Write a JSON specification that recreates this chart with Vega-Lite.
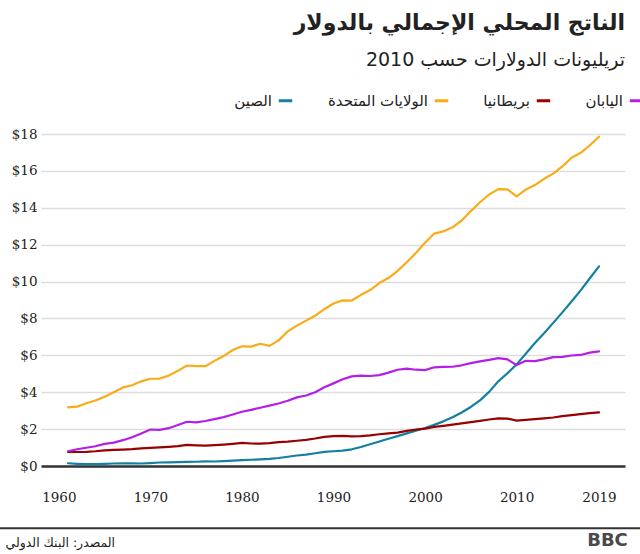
{
  "$schema": "https://vega.github.io/schema/vega-lite/v6.json",
  "width": 584,
  "height": 332,
  "autosize": {"type": "none"},
  "padding": {"left": 41, "top": 134, "right": 15, "bottom": 88},
  "background": "white",
  "title": {
    "text": "الناتج المحلي الإجمالي بالدولار",
    "subtitle": "تريليونات الدولارات حسب 2010",
    "anchor": "end",
    "frame": "group",
    "orient": "top",
    "offset": 21,
    "font": "DejaVu Sans",
    "fontSize": 22,
    "fontWeight": "bold",
    "color": "#222222",
    "subtitleFont": "DejaVu Sans",
    "subtitleFontSize": 19,
    "subtitleColor": "#222222",
    "subtitlePadding": 16
  },
  "config": {
    "view": {"stroke": null},
    "axisY": {
      "labelOverlap": false,
      "domain": false,
      "ticks": false,
      "grid": true,
      "gridColor": "#dddddd",
      "gridWidth": 1.5,
      "labelPadding": 4,
      "labelFont": "DejaVu Serif",
      "labelFontSize": 13.5,
      "labelColor": "#222222",
      "titleAngle": 0,
      "titleX": 566,
      "titleY": 406,
      "titleAlign": "center",
      "titleBaseline": "middle",
      "titleFont": "DejaVu Sans",
      "titleFontSize": 18,
      "titleFontWeight": "bold",
      "titleColor": "#4a4a4a"
    },
    "axisX": {
      "labelOverlap": false,
      "grid": false,
      "ticks": false,
      "domain": true,
      "domainColor": "#333333",
      "domainWidth": 2.5,
      "labelPadding": 24,
      "labelFont": "DejaVu Serif",
      "labelFontSize": 13.5,
      "labelColor": "#222222",
      "zindex": 1,
      "titleX": -36,
      "titleY": 76,
      "titleAlign": "left",
      "titleBaseline": "middle",
      "titleFont": "DejaVu Sans",
      "titleFontSize": 12.5,
      "titleFontWeight": "normal",
      "titleColor": "#222222"
    }
  },
  "datasets": {
    "gdp": [
      {"year":1961,"country":"الصين","gdp":0.15},{"year":1962,"country":"الصين","gdp":0.12},{"year":1963,"country":"الصين","gdp":0.10},{"year":1964,"country":"الصين","gdp":0.10},{"year":1965,"country":"الصين","gdp":0.115},{"year":1966,"country":"الصين","gdp":0.135},{"year":1967,"country":"الصين","gdp":0.15},{"year":1968,"country":"الصين","gdp":0.14},{"year":1969,"country":"الصين","gdp":0.135},{"year":1970,"country":"الصين","gdp":0.16},
      {"year":1971,"country":"الصين","gdp":0.19},{"year":1972,"country":"الصين","gdp":0.20},{"year":1973,"country":"الصين","gdp":0.21},{"year":1974,"country":"الصين","gdp":0.225},{"year":1975,"country":"الصين","gdp":0.23},{"year":1976,"country":"الصين","gdp":0.25},{"year":1977,"country":"الصين","gdp":0.245},{"year":1978,"country":"الصين","gdp":0.265},{"year":1979,"country":"الصين","gdp":0.295},{"year":1980,"country":"الصين","gdp":0.32},
      {"year":1981,"country":"الصين","gdp":0.34},{"year":1982,"country":"الصين","gdp":0.36},{"year":1983,"country":"الصين","gdp":0.39},{"year":1984,"country":"الصين","gdp":0.435},{"year":1985,"country":"الصين","gdp":0.50},{"year":1986,"country":"الصين","gdp":0.57},{"year":1987,"country":"الصين","gdp":0.62},{"year":1988,"country":"الصين","gdp":0.69},{"year":1989,"country":"الصين","gdp":0.77},{"year":1990,"country":"الصين","gdp":0.80},
      {"year":1991,"country":"الصين","gdp":0.83},{"year":1992,"country":"الصين","gdp":0.905},{"year":1993,"country":"الصين","gdp":1.03},{"year":1994,"country":"الصين","gdp":1.18},{"year":1995,"country":"الصين","gdp":1.33},{"year":1996,"country":"الصين","gdp":1.48},{"year":1997,"country":"الصين","gdp":1.62},{"year":1998,"country":"الصين","gdp":1.77},{"year":1999,"country":"الصين","gdp":1.91},{"year":2000,"country":"الصين","gdp":2.06},
      {"year":2001,"country":"الصين","gdp":2.23},{"year":2002,"country":"الصين","gdp":2.42},{"year":2003,"country":"الصين","gdp":2.64},{"year":2004,"country":"الصين","gdp":2.90},{"year":2005,"country":"الصين","gdp":3.20},{"year":2006,"country":"الصين","gdp":3.56},{"year":2007,"country":"الصين","gdp":4.02},{"year":2008,"country":"الصين","gdp":4.59},{"year":2009,"country":"الصين","gdp":5.03},{"year":2010,"country":"الصين","gdp":5.51},
      {"year":2011,"country":"الصين","gdp":6.09},{"year":2012,"country":"الصين","gdp":6.67},{"year":2013,"country":"الصين","gdp":7.20},{"year":2014,"country":"الصين","gdp":7.76},{"year":2015,"country":"الصين","gdp":8.33},{"year":2016,"country":"الصين","gdp":8.92},{"year":2017,"country":"الصين","gdp":9.52},{"year":2018,"country":"الصين","gdp":10.18},{"year":2019,"country":"الصين","gdp":10.82},

      {"year":1961,"country":"الولايات المتحدة","gdp":3.18},{"year":1962,"country":"الولايات المتحدة","gdp":3.22},{"year":1963,"country":"الولايات المتحدة","gdp":3.40},{"year":1964,"country":"الولايات المتحدة","gdp":3.55},{"year":1965,"country":"الولايات المتحدة","gdp":3.75},{"year":1966,"country":"الولايات المتحدة","gdp":4.00},{"year":1967,"country":"الولايات المتحدة","gdp":4.26},{"year":1968,"country":"الولايات المتحدة","gdp":4.38},{"year":1969,"country":"الولايات المتحدة","gdp":4.59},{"year":1970,"country":"الولايات المتحدة","gdp":4.73},
      {"year":1971,"country":"الولايات المتحدة","gdp":4.74},{"year":1972,"country":"الولايات المتحدة","gdp":4.90},{"year":1973,"country":"الولايات المتحدة","gdp":5.16},{"year":1974,"country":"الولايات المتحدة","gdp":5.45},{"year":1975,"country":"الولايات المتحدة","gdp":5.42},{"year":1976,"country":"الولايات المتحدة","gdp":5.41},{"year":1977,"country":"الولايات المتحدة","gdp":5.70},{"year":1978,"country":"الولايات المتحدة","gdp":5.96},{"year":1979,"country":"الولايات المتحدة","gdp":6.29},{"year":1980,"country":"الولايات المتحدة","gdp":6.49},
      {"year":1981,"country":"الولايات المتحدة","gdp":6.47},{"year":1982,"country":"الولايات المتحدة","gdp":6.63},{"year":1983,"country":"الولايات المتحدة","gdp":6.51},{"year":1984,"country":"الولايات المتحدة","gdp":6.81},{"year":1985,"country":"الولايات المتحدة","gdp":7.30},{"year":1986,"country":"الولايات المتحدة","gdp":7.61},{"year":1987,"country":"الولايات المتحدة","gdp":7.88},{"year":1988,"country":"الولايات المتحدة","gdp":8.15},{"year":1989,"country":"الولايات المتحدة","gdp":8.50},{"year":1990,"country":"الولايات المتحدة","gdp":8.81},
      {"year":1991,"country":"الولايات المتحدة","gdp":8.98},{"year":1992,"country":"الولايات المتحدة","gdp":8.97},{"year":1993,"country":"الولايات المتحدة","gdp":9.28},{"year":1994,"country":"الولايات المتحدة","gdp":9.54},{"year":1995,"country":"الولايات المتحدة","gdp":9.92},{"year":1996,"country":"الولايات المتحدة","gdp":10.19},{"year":1997,"country":"الولايات المتحدة","gdp":10.58},{"year":1998,"country":"الولايات المتحدة","gdp":11.05},{"year":1999,"country":"الولايات المتحدة","gdp":11.55},{"year":2000,"country":"الولايات المتحدة","gdp":12.10},
      {"year":2001,"country":"الولايات المتحدة","gdp":12.60},{"year":2002,"country":"الولايات المتحدة","gdp":12.72},{"year":2003,"country":"الولايات المتحدة","gdp":12.94},{"year":2004,"country":"الولايات المتحدة","gdp":13.31},{"year":2005,"country":"الولايات المتحدة","gdp":13.82},{"year":2006,"country":"الولايات المتحدة","gdp":14.30},{"year":2007,"country":"الولايات المتحدة","gdp":14.72},{"year":2008,"country":"الولايات المتحدة","gdp":15.01},{"year":2009,"country":"الولايات المتحدة","gdp":15.00},{"year":2010,"country":"الولايات المتحدة","gdp":14.62},
      {"year":2011,"country":"الولايات المتحدة","gdp":14.99},{"year":2012,"country":"الولايات المتحدة","gdp":15.23},{"year":2013,"country":"الولايات المتحدة","gdp":15.57},{"year":2014,"country":"الولايات المتحدة","gdp":15.85},{"year":2015,"country":"الولايات المتحدة","gdp":16.24},{"year":2016,"country":"الولايات المتحدة","gdp":16.71},{"year":2017,"country":"الولايات المتحدة","gdp":16.98},{"year":2018,"country":"الولايات المتحدة","gdp":17.39},{"year":2019,"country":"الولايات المتحدة","gdp":17.85},

      {"year":1961,"country":"بريطانيا","gdp":0.76},{"year":1962,"country":"بريطانيا","gdp":0.76},{"year":1963,"country":"بريطانيا","gdp":0.77},{"year":1964,"country":"بريطانيا","gdp":0.80},{"year":1965,"country":"بريطانيا","gdp":0.85},{"year":1966,"country":"بريطانيا","gdp":0.87},{"year":1967,"country":"بريطانيا","gdp":0.89},{"year":1968,"country":"بريطانيا","gdp":0.91},{"year":1969,"country":"بريطانيا","gdp":0.96},{"year":1970,"country":"بريطانيا","gdp":0.98},
      {"year":1971,"country":"بريطانيا","gdp":1.01},{"year":1972,"country":"بريطانيا","gdp":1.04},{"year":1973,"country":"بريطانيا","gdp":1.08},{"year":1974,"country":"بريطانيا","gdp":1.15},{"year":1975,"country":"بريطانيا","gdp":1.12},{"year":1976,"country":"بريطانيا","gdp":1.10},{"year":1977,"country":"بريطانيا","gdp":1.13},{"year":1978,"country":"بريطانيا","gdp":1.16},{"year":1979,"country":"بريطانيا","gdp":1.20},{"year":1980,"country":"بريطانيا","gdp":1.25},
      {"year":1981,"country":"بريطانيا","gdp":1.22},{"year":1982,"country":"بريطانيا","gdp":1.21},{"year":1983,"country":"بريطانيا","gdp":1.24},{"year":1984,"country":"بريطانيا","gdp":1.29},{"year":1985,"country":"بريطانيا","gdp":1.32},{"year":1986,"country":"بريطانيا","gdp":1.37},{"year":1987,"country":"بريطانيا","gdp":1.42},{"year":1988,"country":"بريطانيا","gdp":1.49},{"year":1989,"country":"بريطانيا","gdp":1.58},{"year":1990,"country":"بريطانيا","gdp":1.62},
      {"year":1991,"country":"بريطانيا","gdp":1.63},{"year":1992,"country":"بريطانيا","gdp":1.61},{"year":1993,"country":"بريطانيا","gdp":1.62},{"year":1994,"country":"بريطانيا","gdp":1.66},{"year":1995,"country":"بريطانيا","gdp":1.72},{"year":1996,"country":"بريطانيا","gdp":1.77},{"year":1997,"country":"بريطانيا","gdp":1.81},{"year":1998,"country":"بريطانيا","gdp":1.90},{"year":1999,"country":"بريطانيا","gdp":1.97},{"year":2000,"country":"بريطانيا","gdp":2.03},
      {"year":2001,"country":"بريطانيا","gdp":2.12},{"year":2002,"country":"بريطانيا","gdp":2.18},{"year":2003,"country":"بريطانيا","gdp":2.24},{"year":2004,"country":"بريطانيا","gdp":2.31},{"year":2005,"country":"بريطانيا","gdp":2.38},{"year":2006,"country":"بريطانيا","gdp":2.45},{"year":2007,"country":"بريطانيا","gdp":2.52},{"year":2008,"country":"بريطانيا","gdp":2.58},{"year":2009,"country":"بريطانيا","gdp":2.57},{"year":2010,"country":"بريطانيا","gdp":2.46},
      {"year":2011,"country":"بريطانيا","gdp":2.50},{"year":2012,"country":"بريطانيا","gdp":2.54},{"year":2013,"country":"بريطانيا","gdp":2.58},{"year":2014,"country":"بريطانيا","gdp":2.63},{"year":2015,"country":"بريطانيا","gdp":2.70},{"year":2016,"country":"بريطانيا","gdp":2.76},{"year":2017,"country":"بريطانيا","gdp":2.81},{"year":2018,"country":"بريطانيا","gdp":2.87},{"year":2019,"country":"بريطانيا","gdp":2.91},

      {"year":1961,"country":"اليابان","gdp":0.80},{"year":1962,"country":"اليابان","gdp":0.91},{"year":1963,"country":"اليابان","gdp":0.99},{"year":1964,"country":"اليابان","gdp":1.07},{"year":1965,"country":"اليابان","gdp":1.20},{"year":1966,"country":"اليابان","gdp":1.27},{"year":1967,"country":"اليابان","gdp":1.40},{"year":1968,"country":"اليابان","gdp":1.56},{"year":1969,"country":"اليابان","gdp":1.76},{"year":1970,"country":"اليابان","gdp":1.98},
      {"year":1971,"country":"اليابان","gdp":1.96},{"year":1972,"country":"اليابان","gdp":2.05},{"year":1973,"country":"اليابان","gdp":2.22},{"year":1974,"country":"اليابان","gdp":2.40},{"year":1975,"country":"اليابان","gdp":2.37},{"year":1976,"country":"اليابان","gdp":2.44},{"year":1977,"country":"اليابان","gdp":2.54},{"year":1978,"country":"اليابان","gdp":2.65},{"year":1979,"country":"اليابان","gdp":2.79},{"year":1980,"country":"اليابان","gdp":2.94},
      {"year":1981,"country":"اليابان","gdp":3.04},{"year":1982,"country":"اليابان","gdp":3.16},{"year":1983,"country":"اليابان","gdp":3.27},{"year":1984,"country":"اليابان","gdp":3.39},{"year":1985,"country":"اليابان","gdp":3.54},{"year":1986,"country":"اليابان","gdp":3.72},{"year":1987,"country":"اليابان","gdp":3.82},{"year":1988,"country":"اليابان","gdp":4.00},{"year":1989,"country":"اليابان","gdp":4.27},{"year":1990,"country":"اليابان","gdp":4.48},
      {"year":1991,"country":"اليابان","gdp":4.70},{"year":1992,"country":"اليابان","gdp":4.86},{"year":1993,"country":"اليابان","gdp":4.90},{"year":1994,"country":"اليابان","gdp":4.88},{"year":1995,"country":"اليابان","gdp":4.93},{"year":1996,"country":"اليابان","gdp":5.06},{"year":1997,"country":"اليابان","gdp":5.22},{"year":1998,"country":"اليابان","gdp":5.28},{"year":1999,"country":"اليابان","gdp":5.22},{"year":2000,"country":"اليابان","gdp":5.20},
      {"year":2001,"country":"اليابان","gdp":5.35},{"year":2002,"country":"اليابان","gdp":5.37},{"year":2003,"country":"اليابان","gdp":5.38},{"year":2004,"country":"اليابان","gdp":5.46},{"year":2005,"country":"اليابان","gdp":5.58},{"year":2006,"country":"اليابان","gdp":5.67},{"year":2007,"country":"اليابان","gdp":5.75},{"year":2008,"country":"اليابان","gdp":5.85},{"year":2009,"country":"اليابان","gdp":5.78},{"year":2010,"country":"اليابان","gdp":5.47},
      {"year":2011,"country":"اليابان","gdp":5.70},{"year":2012,"country":"اليابان","gdp":5.69},{"year":2013,"country":"اليابان","gdp":5.78},{"year":2014,"country":"اليابان","gdp":5.90},{"year":2015,"country":"اليابان","gdp":5.92},{"year":2016,"country":"اليابان","gdp":5.99},{"year":2017,"country":"اليابان","gdp":6.02},{"year":2018,"country":"اليابان","gdp":6.15},{"year":2019,"country":"اليابان","gdp":6.21}
    ]
  },
  "layer": [
    {
      "data": {"name": "gdp"},
      "mark": {"type": "line", "strokeWidth": 2.2, "strokeJoin": "round", "strokeCap": "round"},
      "encoding": {
        "x": {
          "field": "year",
          "type": "quantitative",
          "scale": {"domain": [1958.05, 2021.84], "nice": false, "zero": false},
          "axis": {"title": "المصدر: البنك الدولي", "values": [1960, 1970, 1980, 1990, 2000, 2010, 2019], "format": "d"}
        },
        "y": {
          "field": "gdp",
          "type": "quantitative",
          "scale": {"domain": [0, 18], "nice": false},
          "axis": {"title": "BBC", "values": [0, 2, 4, 6, 8, 10, 12, 14, 16, 18], "labelExpr": "'$' + datum.value"}
        },
        "color": {
          "field": "country",
          "type": "nominal",
          "scale": {
            "domain": ["الصين", "الولايات المتحدة", "بريطانيا", "اليابان"],
            "range": ["#1380A1", "#FAAB18", "#990000", "#B31EE8"]
          },
          "legend": {
            "title": null,
            "orient": "none",
            "direction": "horizontal",
            "legendX": 236,
            "legendY": -42,
            "symbolType": "stroke",
            "symbolStrokeWidth": 3,
            "symbolSize": 180,
            "labelAlign": "right",
            "labelOffset": -22,
            "labelFont": "DejaVu Sans",
            "labelFontSize": 15,
            "labelColor": "#222222",
            "labelLimit": 300,
            "columnPadding": 28
          }
        }
      }
    },
    {
      "data": {"values": [{}]},
      "mark": {"type": "rule", "color": "#333333", "strokeWidth": 2, "clip": false},
      "encoding": {
        "x": {"datum": 1953.5, "axis": {"title": "المصدر: البنك الدولي", "values": [1960, 1970, 1980, 1990, 2000, 2010, 2019], "format": "d"}},
        "x2": {"datum": 2023.7},
        "y": {"datum": -3.37, "axis": {"title": "BBC", "values": [0, 2, 4, 6, 8, 10, 12, 14, 16, 18], "labelExpr": "'$' + datum.value"}}
      }
    }
  ]
}
